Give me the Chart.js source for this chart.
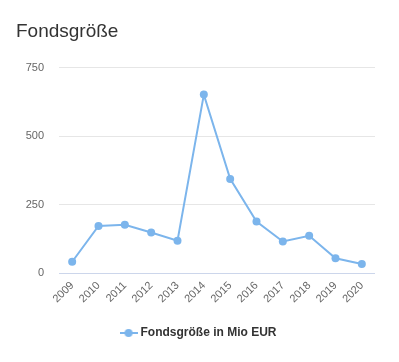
<!DOCTYPE html>
<html>
<head>
<meta charset="utf-8">
<script src="https://cdn.jsdelivr.net/npm/chart.js@4/dist/chart.umd.min.js"></script>
<style>
html,body{margin:0;padding:0;background:#fff;}
#wrap{width:399px;height:362px;}
</style>
</head>
<body>
<div id="wrap"><canvas id="c" width="399" height="362"></canvas></div>
<script>
const titleText = 'Fondsgröße';
const seriesName = 'Fondsgröße in Mio EUR';
const years = ['2009','2010','2011','2012','2013','2014','2015','2016','2017','2018','2019','2020'];
const fundSize = [41, 172, 176, 148, 118, 652, 344, 188, 115, 136, 54, 33];
const yTicks = [0, 250, 500, 750];

const lineColor = '#7cb5ec';
const FONT = '"Liberation Sans", Arial, Helvetica, sans-serif';

// legend marker: line with circle
const marker = document.createElement('canvas');
marker.width = 18; marker.height = 10;
(function(){
  const m = marker.getContext('2d');
  m.strokeStyle = lineColor; m.lineWidth = 2;
  m.beginPath(); m.moveTo(0,5); m.lineTo(18,5); m.stroke();
  m.fillStyle = lineColor;
  m.beginPath(); m.arc(9,5,4,0,Math.PI*2); m.fill();
})();

const centerLegend = {
  id: 'centerLegend',
  afterLayout(chart) {
    if (chart.legend) { chart.legend.left = 0; chart.legend.right = chart.width; }
  }
};

new Chart(document.getElementById('c'), {
  type: 'line',
  data: {
    labels: years,
    datasets: [{
      label: seriesName,
      data: fundSize,
      borderColor: lineColor,
      backgroundColor: lineColor,
      borderWidth: 2,
      pointRadius: 4,
      pointHoverRadius: 4,
      pointBackgroundColor: lineColor,
      pointBorderWidth: 0,
      tension: 0,
      fill: false
    }]
  },
  plugins: [centerLegend],
  options: {
    responsive: false,
    animation: false,
    layout: { padding: { left: 16, right: 24, top: 0, bottom: 13 } },
    plugins: {
      tooltip: { enabled: false },
      title: {
        display: true,
        text: titleText,
        align: 'start',
        color: '#333333',
        font: { family: FONT, size: 19, weight: 'normal' },
        padding: { top: 20, bottom: 25 }
      },
      legend: {
        position: 'bottom',
        labels: {
          color: '#333333',
          font: { family: FONT, size: 12, weight: 'bold' },
          usePointStyle: true,
          pointStyleWidth: 12,
          padding: 10,
          generateLabels: (chart) => {
            const items = Chart.defaults.plugins.legend.labels.generateLabels(chart);
            items.forEach(it => { it.pointStyle = marker; });
            return items;
          }
        }
      }
    },
    scales: {
      x: {
        offset: true,
        grid: { display: false, drawTicks: false },
        border: { display: false },
        ticks: {
          color: '#666666',
          font: { family: FONT, size: 11 },
          minRotation: 45,
          maxRotation: 45,
          autoSkip: false,
          padding: 6
        },
        afterFit: (s) => { s.height = 44; }
      },
      y: {
        min: 0,
        max: 750,
        afterBuildTicks: (s) => { s.ticks = yTicks.map(v => ({ value: v })); },
        grid: {
          drawTicks: false,
          color: (ctx) => (ctx.tick && ctx.tick.value === 0) ? '#ccd6eb' : '#e6e6e6',
          lineWidth: 1
        },
        border: { display: false },
        ticks: {
          color: '#666666',
          font: { family: FONT, size: 11 },
          padding: 15
        },
        afterFit: (s) => { s.width = 43; }
      }
    }
  }
});
</script>
</body>
</html>
